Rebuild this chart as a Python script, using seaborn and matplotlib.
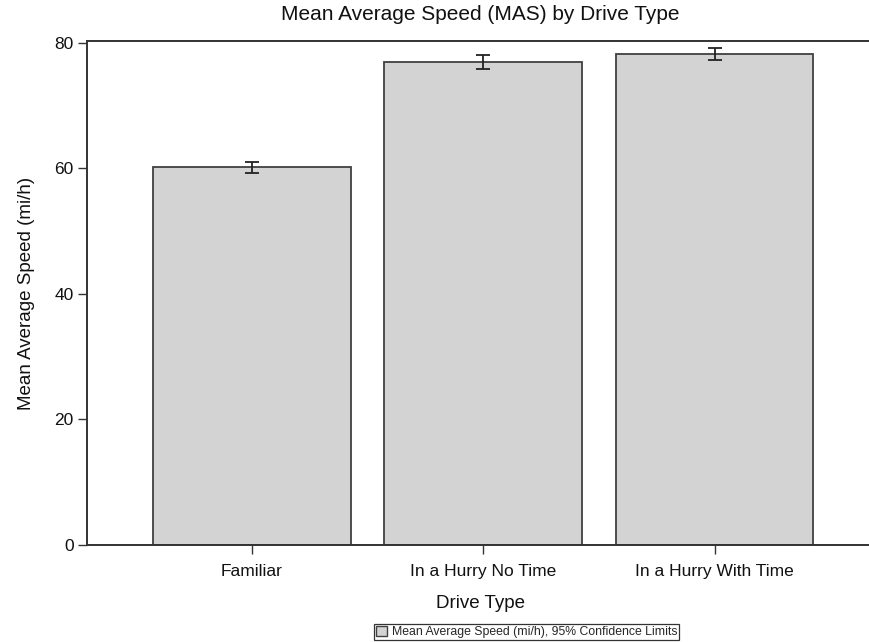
import matplotlib
matplotlib.use("Agg")
import matplotlib.pyplot as plt
from matplotlib.patches import Patch
import seaborn as sns
import pandas as pd
import numpy as np

# Mean average speed per drive type with 95% confidence limits
drive_types = ["Familiar", "In a Hurry No Time", "In a Hurry With Time"]
mean_speed = [60.2, 76.9, 78.2]
lower_cl = [59.2, 75.9, 77.2]
upper_cl = [61.0, 78.1, 79.2]

sns.set_theme(style="white")
plt.rcParams["font.family"] = ["Liberation Sans", "DejaVu Sans"]

df = pd.DataFrame({"Drive Type": drive_types, "MAS": mean_speed})

fig = plt.figure(figsize=(8.69, 6.42), dpi=100)
ax = fig.add_axes([0.1001, 0.1511, 0.905, 0.785])

sns.barplot(data=df, x="Drive Type", y="MAS", color="#D3D3D3",
            edgecolor="#404040", linewidth=1.3, width=0.855,
            saturation=1, errorbar=None, ax=ax)

means = np.array(mean_speed)
yerr = np.vstack([means - np.array(lower_cl), np.array(upper_cl) - means])
ax.errorbar(np.arange(len(drive_types)), means, yerr=yerr, fmt="none",
            ecolor="#222222", elinewidth=1.3, capsize=5, capthick=1.3, zorder=5)

ax.set_xlim(-0.713, 2.687)
ax.set_ylim(0, 80.3)
ax.set_yticks([0, 20, 40, 60, 80])

for side in ["left", "top", "bottom"]:
    ax.spines[side].set_color("#333333")
    ax.spines[side].set_linewidth(1.4)
ax.spines["right"].set_visible(False)

ax.tick_params(axis="both", which="both", direction="out", length=6.5, width=1,
               color="#333333", labelsize=12.5, labelcolor="#111111", pad=3,
               bottom=True, left=True)
ax.tick_params(axis="x", pad=7)

ax.set_xlabel("Drive Type", fontsize=13.5, color="#111111", labelpad=11.5)
ax.set_ylabel("Mean Average Speed (mi/h)", fontsize=13.5, color="#111111", labelpad=14)
fig.text(0.553, 0.978, "Mean Average Speed (MAS) by Drive Type",
         ha="center", va="center", fontsize=15, color="#111111")

handle = Patch(facecolor="#D3D3D3", edgecolor="#404040", linewidth=1)
leg = fig.legend([handle], ["Mean Average Speed (mi/h), 95% Confidence Limits"],
                 loc="center", bbox_to_anchor=(0.606, 0.0155), frameon=True,
                 fancybox=False, fontsize=8.8, handlelength=0.9, handleheight=0.9,
                 handletextpad=0.4, borderpad=0.15, borderaxespad=0)
leg.get_frame().set_edgecolor("#000000")
leg.get_frame().set_linewidth(0.9)

fig.savefig("out.png", dpi=100)
